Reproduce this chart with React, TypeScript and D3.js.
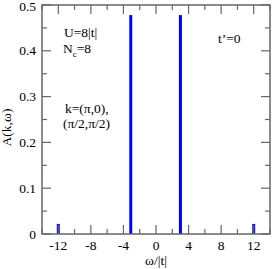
import React from 'react';
import * as d3 from 'd3';

// spectral peaks: position (omega/|t|) and height A(k,omega)
const peakOmega = [-12, -3.1, 3.0, 12];
const peakHeight = [0.022, 0.478, 0.478, 0.022];

const xMajorTicks = [-12, -8, -4, 0, 4, 8, 12];
const xMinorTicks = [-14, -10, -6, -2, 2, 6, 10, 14];
const yMajorTicks = [0, 0.1, 0.2, 0.3, 0.4, 0.5];
const yMinorTicks = [0.05, 0.15, 0.25, 0.35, 0.45];

const W = 273;
const H = 269;
const margin = { top: 5, right: 3, bottom: 35, left: 42 };
const axisColor = '#666';
const font = '"Liberation Serif", "DejaVu Serif", serif';

const App: React.FC = () => {
  const x = d3.scaleLinear().domain([-14, 14]).range([margin.left, W - margin.right]);
  const y = d3.scaleLinear().domain([0, 0.5]).range([H - margin.bottom, margin.top]);
  const x0 = x(-14);
  const x1 = x(14);
  const y0 = y(0);
  const y1 = y(0.5);

  return (
    <svg width={W} height={H} style={{ position: 'absolute', left: 0, top: 0 }} fontFamily={font}>
      <rect x={0} y={0} width={W} height={H} fill="white" />
      {/* peaks */}
      {peakOmega.map((w, i) => (
        <line key={'p' + i} x1={x(w)} x2={x(w)} y1={y(0)} y2={y(peakHeight[i])} stroke="#0000ff" strokeWidth={3} />
      ))}
      {/* ticks */}
      {xMajorTicks.map((t) => (
        <g key={'xM' + t} stroke={axisColor} strokeWidth={1.2}>
          <line x1={x(t)} x2={x(t)} y1={y0} y2={y0 - 9} />
          <line x1={x(t)} x2={x(t)} y1={y1} y2={y1 + 9} />
        </g>
      ))}
      {xMinorTicks.map((t) => (
        <g key={'xm' + t} stroke={axisColor} strokeWidth={1.2}>
          <line x1={x(t)} x2={x(t)} y1={y0} y2={y0 - 5} />
          <line x1={x(t)} x2={x(t)} y1={y1} y2={y1 + 5} />
        </g>
      ))}
      {yMajorTicks.map((t) => (
        <g key={'yM' + t} stroke={axisColor} strokeWidth={1.2}>
          <line x1={x0} x2={x0 + 9} y1={y(t)} y2={y(t)} />
          <line x1={x1} x2={x1 - 9} y1={y(t)} y2={y(t)} />
        </g>
      ))}
      {yMinorTicks.map((t) => (
        <g key={'ym' + t} stroke={axisColor} strokeWidth={1.2}>
          <line x1={x0} x2={x0 + 5} y1={y(t)} y2={y(t)} />
          <line x1={x1} x2={x1 - 5} y1={y(t)} y2={y(t)} />
        </g>
      ))}
      <rect x={x0} y={y1} width={x1 - x0} height={y0 - y1} fill="none" stroke={axisColor} strokeWidth={1.5} />
      {/* tick labels */}
      {xMajorTicks.map((t) => (
        <text key={'xl' + t} x={x(t)} y={y0 + 16} textAnchor="middle" fontSize={13.5}>
          {t}
        </text>
      ))}
      {yMajorTicks.map((t) => (
        <text key={'yl' + t} x={x0 - 6} y={Math.max(y(t) + 4.5, 11)} textAnchor="end" fontSize={13.5}>
          {t === 0 ? '0' : t.toFixed(1)}
        </text>
      ))}
      {/* axis titles */}
      <text x={(x0 + x1) / 2} y={265} textAnchor="middle" fontSize={13.5}>
        ω/|t|
      </text>
      <text transform={`translate(11,${(y0 + y1) / 2 + 8}) rotate(-90)`} textAnchor="middle" fontSize={13.5}>
        A(k,ω)
      </text>
      {/* annotations */}
      <text x={64} y={37} fontSize={13.5}>U=8|t|</text>
      <text x={63} y={53} fontSize={13.5}>
        N<tspan fontSize={9} dy={4}>c</tspan>
        <tspan dy={-4}>=8</tspan>
      </text>
      <text x={65} y={113} fontSize={13.5}>k=(π,0),</text>
      <text x={63} y={128} fontSize={13.5}>(π/2,π/2)</text>
      <text x={218} y={43} fontSize={13.5}>t’=0</text>
    </svg>
  );
};

export default App;
